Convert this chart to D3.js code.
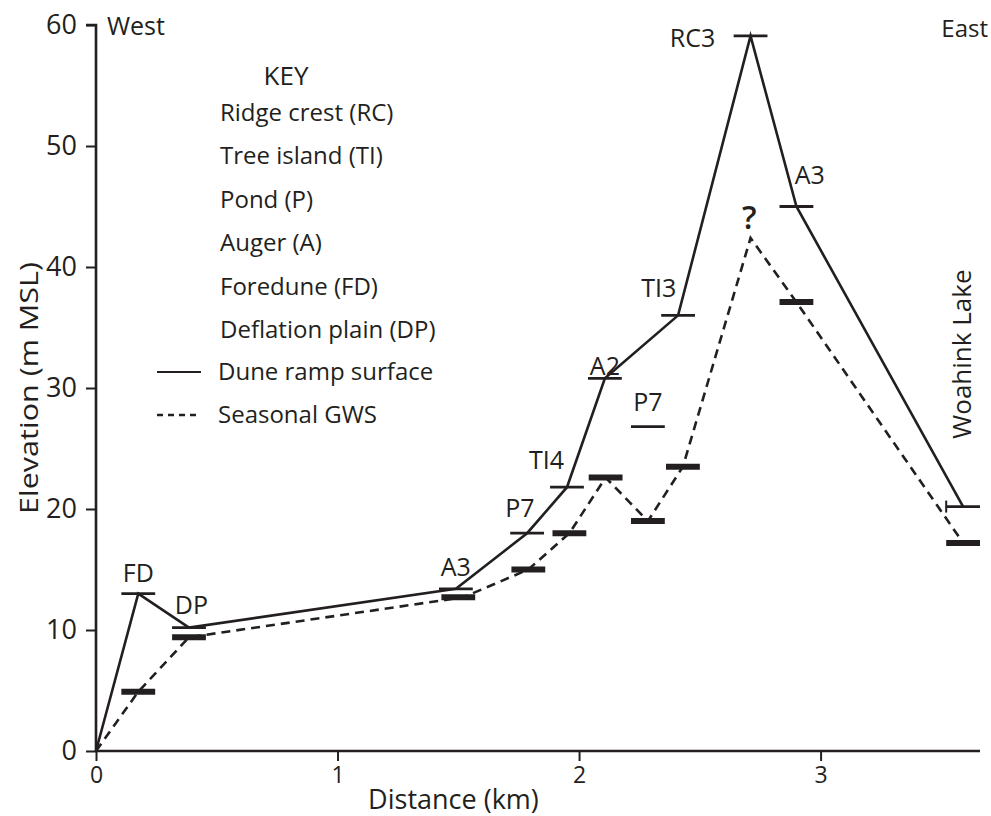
<!DOCTYPE html>
<html>
<head>
<meta charset="utf-8">
<script src="https://cdn.jsdelivr.net/npm/d3@7"></script>
<style>
  html, body { margin: 0; padding: 0; background: #fff; }
  svg { display: block; font-family: "Open Sans", "Noto Sans", sans-serif; }
</style>
</head>
<body>
<svg id="chart" width="991" height="816"></svg>
<script>
// ---------- data ----------
// Dune ramp surface profile (distance km, elevation m MSL)
const surfaceDist = [0, 0.175, 0.385, 1.49, 1.785, 1.95, 2.107, 2.41, 2.71, 2.90, 3.59];
const surfaceElev = [0, 13.0, 10.2, 13.4, 18.0, 21.8, 30.8, 36.0, 59.1, 45.0, 20.2];
// Seasonal groundwater surface (GWS)
const gwsDist = [0, 0.175, 0.385, 1.52, 1.79, 1.96, 2.11, 2.285, 2.43, 2.71, 2.90, 3.59];
const gwsElev = [0, 4.9, 9.4, 12.7, 15.0, 18.0, 22.6, 19.0, 23.5, 42.4, 37.1, 17.2];
// thin surface markers (site elevations)
const siteDist = [0.175, 0.385, 1.49, 1.785, 1.95, 2.107, 2.285, 2.41, 2.71, 2.90, 3.59];
const siteElev = [13.0, 10.2, 13.4, 18.0, 21.8, 30.8, 26.8, 36.0, 59.1, 45.0, 20.2];
// thick GWS markers
const wellDist = [0.175, 0.385, 1.50, 1.79, 1.96, 2.11, 2.285, 2.43, 2.90, 3.59];
const wellElev = [4.9, 9.4, 12.7, 15.0, 18.0, 22.6, 19.0, 23.5, 37.1, 17.2];
// site labels
const labelText = ["FD", "DP", "A3", "P7", "TI4", "A2", "P7", "TI3", "RC3", "A3"];
const labelDist = [0.175, 0.395, 1.49, 1.755, 1.865, 2.107, 2.285, 2.33, 2.47, 2.955];
const labelElev = [14.0, 11.3, 14.5, 19.3, 23.3, 31.1, 28.1, 37.5, 58.2, 46.9];
// axes
const xTicks = [0, 1, 2, 3];
const yTicks = [0, 10, 20, 30, 40, 50, 60];
const keyItems = ["Ridge crest (RC)", "Tree island (TI)", "Pond (P)", "Auger (A)", "Foredune (FD)", "Deflation plain (DP)"];
const lineKeys = ["Dune ramp surface", "Seasonal GWS"];

// ---------- setup ----------
const ink = "#231f20";
const svg = d3.select("#chart");
const x = d3.scaleLinear().domain([0, 3.66]).range([96, 980]);
const y = d3.scaleLinear().domain([0, 60]).range([751, 25]);

// axes
const yAxis = d3.axisLeft(y).tickValues(yTicks).tickSize(10).tickPadding(9);
const gy = svg.append("g").attr("transform", `translate(${x(0)},0)`).call(yAxis);
gy.select(".domain").attr("d", `M-10,${y(60)}H0V${y(0)}`).attr("stroke", ink).attr("stroke-width", 2.6);
gy.selectAll(".tick line").attr("stroke", ink).attr("stroke-width", 2);
gy.selectAll(".tick text").attr("fill", ink).attr("font-size", 27).attr("font-family", "Open Sans");

const xAxis = d3.axisBottom(x).tickValues(xTicks).tickSize(10).tickPadding(6).tickFormat(d3.format("d"));
const gx = svg.append("g").attr("transform", `translate(0,${y(0)})`).call(xAxis);
gx.select(".domain").attr("d", `M${x(0)},0H${x(3.66)}`).attr("stroke", ink).attr("stroke-width", 2.6);
gx.selectAll(".tick line").attr("stroke", ink).attr("stroke-width", 2);
gx.selectAll(".tick text").attr("fill", ink).attr("font-size", 23).attr("font-family", "Open Sans");

// axis titles
svg.append("text").attr("transform", `translate(38,${y(30)}) rotate(-90)`)
  .attr("text-anchor", "middle").attr("font-size", 26).attr("fill", ink)
  .attr("textLength", 252).attr("lengthAdjust", "spacingAndGlyphs")
  .text("Elevation (m MSL)");
svg.append("text").attr("x", x(1.48)).attr("y", 809).attr("text-anchor", "middle")
  .attr("font-size", 27).attr("fill", ink).text("Distance (km)");

svg.append("text").attr("x", 107).attr("y", 35).attr("font-size", 25).attr("fill", ink).text("West");
svg.append("text").attr("x", 988).attr("y", 37).attr("text-anchor", "end").attr("font-size", 24).attr("fill", ink).text("East");

// lines
const line = d3.line().x(d => x(d[0])).y(d => y(d[1]));
svg.append("path").datum(gwsDist.map((d, i) => [d, gwsElev[i]]))
  .attr("d", line).attr("fill", "none").attr("stroke", ink).attr("stroke-width", 2.6)
  .attr("stroke-dasharray", "9,6");
svg.append("path").datum(surfaceDist.map((d, i) => [d, surfaceElev[i]]))
  .attr("d", line).attr("fill", "none").attr("stroke", ink).attr("stroke-width", 2.6);

// markers
const half = 0.07; // km half-width of markers
svg.append("g").selectAll("line").data(siteDist).join("line")
  .attr("x1", d => x(d - half)).attr("x2", (d, i) => x(Math.min(d + half, 3.66)))
  .attr("y1", (d, i) => y(siteElev[i])).attr("y2", (d, i) => y(siteElev[i]))
  .attr("stroke", ink).attr("stroke-width", 2.8);
svg.append("g").selectAll("line").data(wellDist).join("line")
  .attr("x1", d => x(d - half)).attr("x2", (d, i) => x(Math.min(d + half, 3.66)))
  .attr("y1", (d, i) => y(wellElev[i])).attr("y2", (d, i) => y(wellElev[i]))
  .attr("stroke", ink).attr("stroke-width", 6);
// small end tick on lake marker
const lakeI = siteDist.length - 1;
svg.append("line")
  .attr("x1", x(siteDist[lakeI] - half)).attr("x2", x(siteDist[lakeI] - half))
  .attr("y1", y(siteElev[lakeI]) - 6).attr("y2", y(siteElev[lakeI]) + 6)
  .attr("stroke", ink).attr("stroke-width", 2);

// site labels
svg.append("g").selectAll("text").data(labelText).join("text")
  .attr("x", (d, i) => x(labelDist[i])).attr("y", (d, i) => y(labelElev[i]))
  .attr("text-anchor", "middle").attr("font-size", 25).attr("fill", ink)
  .text(d => d);
// question mark at GWS apex
svg.append("text").attr("x", x(2.705)).attr("y", y(42.4) - 9).attr("text-anchor", "middle")
  .attr("font-size", 32).attr("font-weight", 600).attr("fill", ink).text("?");
// Woahink Lake
svg.append("text").attr("transform", `translate(971,${y(32.8)}) rotate(-90)`)
  .attr("text-anchor", "middle").attr("font-size", 26).attr("fill", ink).text("Woahink Lake");

// key
svg.append("text").attr("x", 286).attr("y", 85).attr("text-anchor", "middle")
  .attr("font-size", 26).attr("fill", ink).text("KEY");
svg.append("g").selectAll("text").data(keyItems).join("text")
  .attr("x", 220).attr("y", (d, i) => 121 + i * 43.4).attr("font-size", 24).attr("fill", ink)
  .text(d => d);
svg.append("g").selectAll("text").data(lineKeys).join("text")
  .attr("x", 218).attr("y", (d, i) => 380 + i * 43).attr("font-size", 24).attr("fill", ink)
  .text(d => d);
svg.append("line").attr("x1", 157).attr("x2", 201).attr("y1", 372).attr("y2", 372)
  .attr("stroke", ink).attr("stroke-width", 2.2);
svg.append("line").attr("x1", 157).attr("x2", 201).attr("y1", 415).attr("y2", 415)
  .attr("stroke", ink).attr("stroke-width", 2.6).attr("stroke-dasharray", "6,5");
</script>
</body>
</html>
